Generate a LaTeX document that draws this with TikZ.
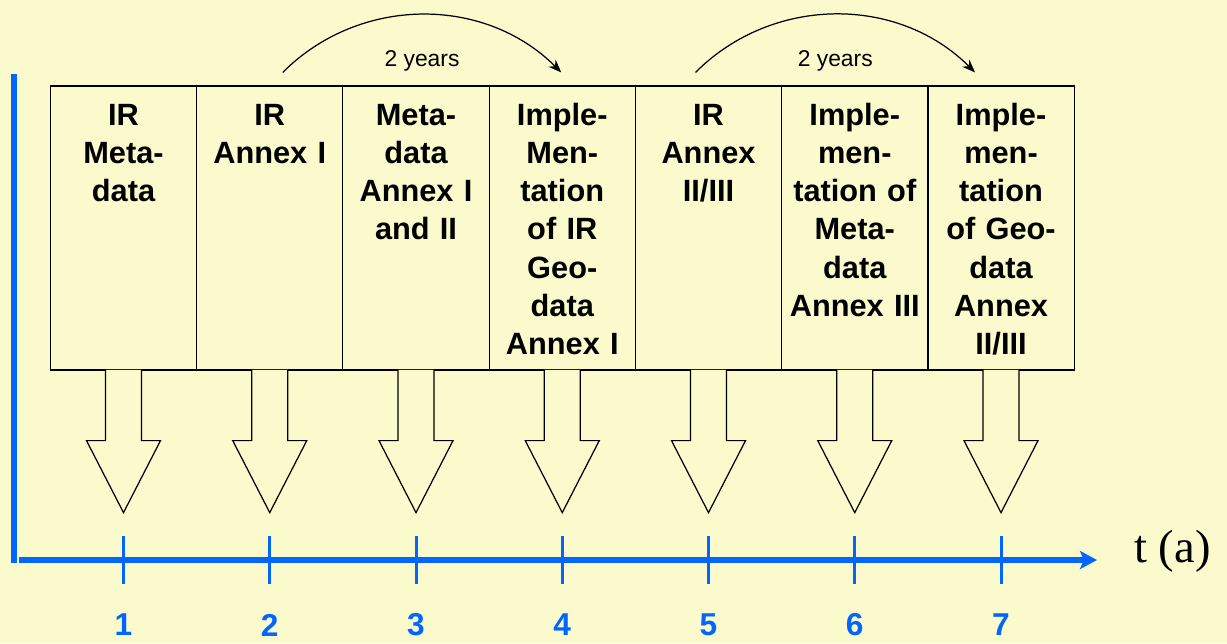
\documentclass[tikz,border=0pt]{standalone}
\usepackage{fontspec}
\setmainfont{Liberation Sans}
\newfontfamily\axisfont{Liberation Serif}
\usetikzlibrary{arrows.meta,positioning}
\definecolor{bg}{RGB}{250,250,204}
\definecolor{axisblue}{RGB}{0,102,255}
\tikzset{phasearrow/.pic={
  \filldraw[fill=bg,line width=0.7pt] (-0.36,0.015) -- (-0.36,-1.4) -- (-0.74,-1.4)
    -- (0,-2.84) -- (0.74,-1.4) -- (0.36,-1.4) -- (0.36,0.015);
  \coordinate (-tip) at (0,-2.84);}}

\begin{document}
\begin{tikzpicture}[>=Stealth,node distance=2.925cm,semithick]
\tikzstyle{phase}=[draw=black,line width=0.7pt,inner sep=0pt,minimum width=2.925cm,
  text width=2.8cm,align=center,text height=0.78cm,text depth=4.9cm,
  font=\bfseries\fontsize{17.5}{21.8}\selectfont]
\tikzstyle{num}=[text=axisblue,font=\bfseries\fontsize{18}{22}\selectfont]
\tikzstyle{timeaxis}=[draw=axisblue,line width=0.12cm]
\tikzstyle{tickmark}=[draw=axisblue,line width=0.06cm]
\tikzstyle{years}=[->,line width=0.7pt,bend left=45,
  >={Stealth[length=0.26cm,width=0.2cm]}]
\tikzstyle{yearlabel}=[font=\fontsize{13}{15}\selectfont]
\fill[bg] (0,0) rectangle (24.54,-12.86);
\useasboundingbox (0,0) rectangle (24.54,-12.86);
\node[phase] (b1) at (2.47,-4.56) {IR\\Meta-\\data};
\node[phase] (b2) [right of=b1] {IR\\Annex I};
\node[phase] (b3) [right of=b2] {Meta-\\data\\Annex I\\and II};
\node[phase] (b4) [right of=b3] {Imple-\\Men-\\tation\\of IR\\Geo-\\data\\Annex I};
\node[phase] (b5) [right of=b4] {IR\\Annex\\II/III};
\node[phase] (b6) [right of=b5] {Imple-\\men-\\tation of\\Meta-\\data\\Annex III};
\node[phase] (b7) [right of=b6] {Imple-\\men-\\tation\\of Geo-\\data\\Annex\\II/III};
\pic (a1) at (b1.south) {phasearrow};
\pic (a2) at (b2.south) {phasearrow};
\pic (a3) at (b3.south) {phasearrow};
\pic (a4) at (b4.south) {phasearrow};
\pic (a5) at (b5.south) {phasearrow};
\pic (a6) at (b6.south) {phasearrow};
\pic (a7) at (b7.south) {phasearrow};
% the two 2 year spans
\coordinate (s1) at ([shift={(0.26,0.26)}]b2.north);
\coordinate (e1) at ([shift={(-0.02,0.26)}]b4.north);
\coordinate (s2) at ([shift={(-0.26,0.26)}]b5.north);
\coordinate (e2) at ([shift={(-0.52,0.26)}]b7.north);
\draw[years] (s1) to node[yearlabel,midway,below=0.58cm] (y1) {2 years} (e1);
\draw[years] (s2) to node[yearlabel,midway,below=0.58cm] (y2) {2 years} (e2);
% time axis
\coordinate (ytop) at (0.29,-1.48);
\coordinate (ybot) at (0.29,-11.26);
\coordinate (xleft) at (0.38,-11.2);
\coordinate (xright) at (21.94,-11.2);
\draw[timeaxis] (ytop) -- (ybot);
\draw[timeaxis,-{Stealth[length=0.34cm,width=0.36cm,inset=0.08cm]}] (xleft) -- (xright);
\node[font=\axisfont\fontsize{26.5}{30}\selectfont,right=0.62cm of xright,yshift=0.18cm] (t) {t (a)};
\draw[tickmark] ([yshift=0.48cm]a1-tip |- xleft) -- ([yshift=-0.48cm]a1-tip |- xleft);
\draw[tickmark] ([yshift=0.48cm]a2-tip |- xleft) -- ([yshift=-0.48cm]a2-tip |- xleft);
\draw[tickmark] ([yshift=0.48cm]a3-tip |- xleft) -- ([yshift=-0.48cm]a3-tip |- xleft);
\draw[tickmark] ([yshift=0.48cm]a4-tip |- xleft) -- ([yshift=-0.48cm]a4-tip |- xleft);
\draw[tickmark] ([yshift=0.48cm]a5-tip |- xleft) -- ([yshift=-0.48cm]a5-tip |- xleft);
\draw[tickmark] ([yshift=0.48cm]a6-tip |- xleft) -- ([yshift=-0.48cm]a6-tip |- xleft);
\draw[tickmark] ([yshift=0.48cm]a7-tip |- xleft) -- ([yshift=-0.48cm]a7-tip |- xleft);
\node[num] (n1) at ([yshift=-1.3cm]a1-tip |- xleft) {1};
\node[num] (n2) at ([yshift=-1.3cm]a2-tip |- xleft) {2};
\node[num] (n3) at ([yshift=-1.3cm]a3-tip |- xleft) {3};
\node[num] (n4) at ([yshift=-1.3cm]a4-tip |- xleft) {4};
\node[num] (n5) at ([yshift=-1.3cm]a5-tip |- xleft) {5};
\node[num] (n6) at ([yshift=-1.3cm]a6-tip |- xleft) {6};
\node[num] (n7) at ([yshift=-1.3cm]a7-tip |- xleft) {7};
\end{tikzpicture}
\end{document}
